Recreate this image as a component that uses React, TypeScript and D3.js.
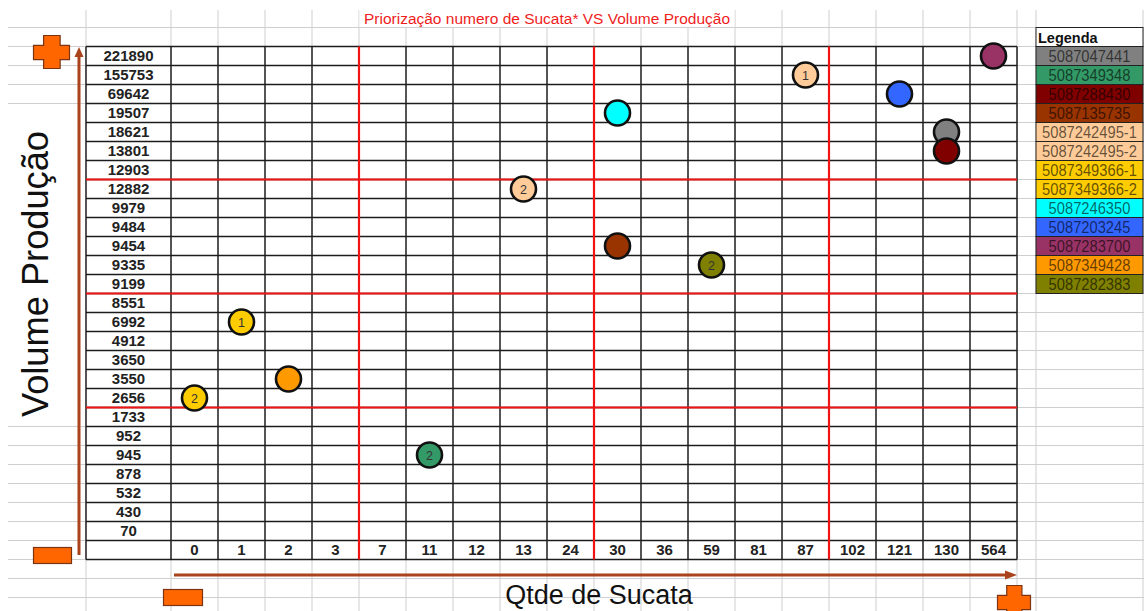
import React from "react";
import * as d3 from "d3";

// ---------- DATA ----------
const chartTitle = "Priorização numero de Sucata* VS Volume Produção";
const yTitle = "Volume Produção";
const xTitle = "Qtde de Sucata";
const legendTitle = "Legenda";

const rowLabels = [
  "221890", "155753", "69642", "19507", "18621", "13801", "12903", "12882",
  "9979", "9484", "9454", "9335", "9199", "8551", "6992", "4912", "3650",
  "3550", "2656", "1733", "952", "945", "878", "532", "430", "70",
];
const colLabels = [
  "0", "1", "2", "3", "7", "11", "12", "13", "24", "30", "36", "59", "81",
  "87", "102", "121", "130", "564",
];
// red split lines are drawn after these categories
const colSplits = ["3", "24", "87"];
const rowSplits = ["12903", "9199", "2656"];

const seriesNames = [
  "5087047441", "5087349348", "5087288430", "5087135735", "5087242495-1",
  "5087242495-2", "5087349366-1", "5087349366-2", "5087246350", "5087203245",
  "5087283700", "5087349428", "5087282383",
];
const seriesColors = [
  "#808080", "#339966", "#800000", "#993300", "#FFCC99", "#FFCC99",
  "#FFCC00", "#FFCC00", "#00FFFF", "#3366FF", "#993366", "#FF9900", "#808000",
];
const pointScrap = ["130", "11", "130", "30", "87", "13", "1", "0", "30", "121", "564", "2", "59"];
const pointVolume = ["18621", "945", "13801", "9454", "155753", "12882", "6992", "2656", "19507", "69642", "221890", "3550", "9335"];
const pointTags = ["", "2", "", "", "1", "2", "1", "2", "", "", "", "", "2"];

// ---------- LAYOUT ----------
const W = 1144;
const H = 611;
const FONT = "'Liberation Sans', Arial, sans-serif";
const tableLeft = 86;
const labelRight = 171;
const colW = 47;
const tableTop = 46.5;
const rowH = 19;

const x = d3
  .scaleBand<string>()
  .domain(colLabels)
  .range([labelRight, labelRight + colLabels.length * colW]);
const y = d3
  .scaleBand<string>()
  .domain(rowLabels)
  .range([tableTop, tableTop + rowLabels.length * rowH]);

const tableRight = x.range()[1];
const dataBottom = y.range()[1];
const tableBottom = dataBottom + rowH;
const legendLeft = 1036;
const legendRight = 1143;

function plusPath(x0: number, y0: number, w: number, h: number) {
  const a = x0 + 0.28 * w, b = x0 + 0.74 * w;
  const c = y0 + 0.3 * h, d = y0 + 0.73 * h;
  const r = x0 + w, btm = y0 + h;
  return `M${a},${y0}H${b}V${c}H${r}V${d}H${b}V${btm}H${a}V${d}H${x0}V${c}H${a}Z`;
}

export default function App() {
  const gridXs = [tableLeft, ...colLabels.map((c) => x(c)!), tableRight, legendLeft, legendRight];
  const gridYs: number[] = [];
  for (let k = -1; tableTop + k * rowH <= H; k++) gridYs.push(tableTop + k * rowH);

  const tableRowYs: number[] = [];
  for (let i = 0; i <= rowLabels.length + 1; i++) tableRowYs.push(tableTop + i * rowH);
  const tableColXs = [tableLeft, ...colLabels.map((c) => x(c)!), tableRight];

  const brown = "#a8431b";
  const orange = "#ff6600";
  const orangeStroke = "#7a3414";

  return (
    <svg
      width={W}
      height={H}
      style={{ position: "absolute", left: 0, top: 0, background: "#fff" }}
      fontFamily={FONT}
    >
      <rect x={0} y={0} width={W} height={H} fill="#fff" />

      {/* spreadsheet background grid */}
      <g stroke="#cfcfcf" strokeWidth={1}>
        {gridXs.map((gx, i) => (
          <line key={"gx" + i} x1={gx} x2={gx} y1={10} y2={H} />
        ))}
        {gridYs.map((gy, i) => (
          <line key={"gy" + i} x1={8} x2={W} y1={gy} y2={gy} />
        ))}
      </g>

      {/* merged title cell & axis-title text box */}
      <rect x={x("7")! + 0.5} y={9} width={x("81")! - x("7")! - 1} height={tableTop - rowH - 9.5} fill="#fff" />
      <rect x={8} y={112} width={tableLeft - 8.5} height={306} fill="#fff" />

      {/* title */}
      <text x={x("7")! + 5} y={23.5} fill="#ee1c1c" fontSize={15.5} textLength={366} lengthAdjust="spacingAndGlyphs">
        {chartTitle}
      </text>

      {/* table */}
      <rect x={tableLeft} y={tableTop} width={tableRight - tableLeft} height={tableBottom - tableTop} fill="#fff" />
      <g stroke="#1c1c1c" strokeWidth={1.5}>
        {tableRowYs.map((ty, i) => (
          <line key={"tr" + i} x1={tableLeft} x2={tableRight} y1={ty} y2={ty} />
        ))}
        {tableColXs.map((tx, i) => (
          <line key={"tc" + i} x1={tx} x2={tx} y1={tableTop} y2={tableBottom} />
        ))}
      </g>

      {/* red quadrant lines */}
      <g stroke="#f01414" strokeWidth={2.2}>
        {colSplits.map((c) => {
          const px = x(c)! + x.bandwidth();
          return <line key={"vc" + c} x1={px} x2={px} y1={tableTop} y2={tableBottom} />;
        })}
        {rowSplits.map((r) => {
          const py = y(r)! + y.bandwidth();
          return <line key={"hr" + r} x1={tableLeft} x2={tableRight} y1={py} y2={py} />;
        })}
      </g>

      {/* row & column labels */}
      <g fontSize={15} fontWeight="bold" fill="#222" textAnchor="middle">
        {rowLabels.map((r) => (
          <text key={"rl" + r} x={(tableLeft + labelRight) / 2} y={y(r)! + y.bandwidth() / 2} dy="0.36em">
            {r}
          </text>
        ))}
        {colLabels.map((c) => (
          <text key={"cl" + c} x={x(c)! + x.bandwidth() / 2} y={dataBottom + rowH / 2} dy="0.36em">
            {c}
          </text>
        ))}
      </g>

      {/* points */}
      <g>
        {seriesNames.map((s, i) => {
          const cx = x(pointScrap[i])! + x.bandwidth() / 2;
          const cy = y(pointVolume[i])! + y.bandwidth() / 2;
          return (
            <g key={"pt" + s}>
              <circle cx={cx} cy={cy} r={12.5} fill={seriesColors[i]} stroke="#111" strokeWidth={2.6} />
              {pointTags[i] && (
                <text x={cx} y={cy} dy="0.36em" textAnchor="middle" fontSize={12.5} fill="#333">
                  {pointTags[i]}
                </text>
              )}
            </g>
          );
        })}
      </g>

      {/* legend */}
      <g>
        <rect x={legendLeft} y={tableTop - rowH} width={legendRight - legendLeft} height={rowH} fill="#fff" stroke="#222" strokeWidth={1} />
        <text x={legendLeft + 2} y={tableTop - 4} fontSize={14.5} fontWeight="bold" fill="#111">
          {legendTitle}
        </text>
        {seriesNames.map((s, i) => {
          const ly = tableTop + i * rowH;
          return (
            <g key={"lg" + s}>
              <rect x={legendLeft} y={ly} width={legendRight - legendLeft} height={rowH} fill={seriesColors[i]} stroke="#222" strokeWidth={1} />
              <text
                x={(legendLeft + legendRight) / 2}
                y={ly + rowH / 2}
                dy="0.37em"
                textAnchor="middle"
                fontSize={16}
                fill="#000"
                fillOpacity={0.62}
                transform={`translate(${(legendLeft + legendRight) / 2},0) scale(0.92,1) translate(${-(legendLeft + legendRight) / 2},0)`}
              >
                {s}
              </text>
            </g>
          );
        })}
      </g>

      {/* axis arrows */}
      <g>
        <line x1={79} x2={79} y1={555} y2={56} stroke={brown} strokeWidth={3} />
        <polygon points="74.5,57 83.5,57 79,47" fill={brown} />
        <line x1={174} x2={1006} y1={575} y2={575} stroke={brown} strokeWidth={3} />
        <polygon points="1005,570.5 1005,579.5 1017,575" fill={brown} />
      </g>

      {/* orange markers */}
      <g fill={orange} stroke={orangeStroke} strokeWidth={1.2}>
        <path d={plusPath(33.5, 35.5, 36, 33)} />
        <rect x={33.5} y={547.5} width={38} height={16} />
        <rect x={163.5} y={589.5} width={39} height={16} />
        <path d={plusPath(997.5, 585.5, 33, 33)} />
      </g>

      {/* axis titles */}
      <text
        transform={`translate(48, 274) rotate(-90)`}
        textAnchor="middle"
        fontSize={37}
        fill="#111"
        textLength={286}
        lengthAdjust="spacingAndGlyphs"
      >
        {yTitle}
      </text>
      <text x={599} y={604} textAnchor="middle" fontSize={27} fill="#111">
        {xTitle}
      </text>
    </svg>
  );
}
